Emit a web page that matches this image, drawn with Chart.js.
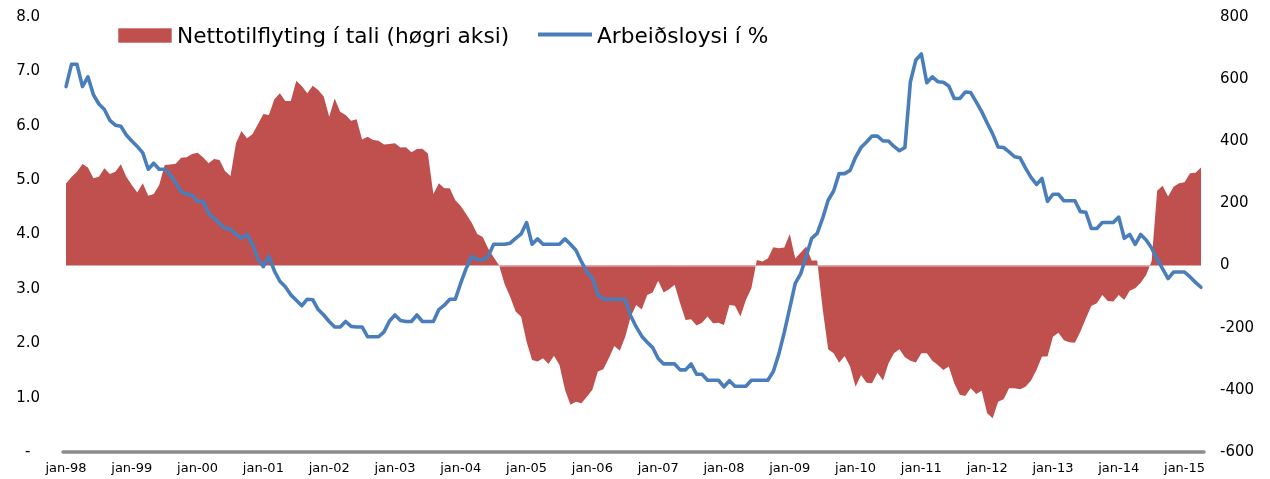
<!DOCTYPE html>
<html>
<head>
<meta charset="utf-8">
<script src="https://cdn.jsdelivr.net/npm/chart.js@4/dist/chart.umd.min.js"></script>
<style>
html,body{margin:0;padding:0;background:#fff;}
#wrap{position:relative;width:1270px;height:479px;}
</style>
</head>
<body>
<div id="wrap"><canvas id="c" width="1270" height="479"></canvas></div>
<script>
// ---- DATA ----
const startYear = 1998;
const monthNames = ['jan','feb','mar','apr','mai','jun','jul','aug','sep','okt','nov','des'];
const seriesNames = ['Nettotilflyting í tali (høgri aksi)', 'Arbeiðsloysi í %'];

// Net migration (right axis), monthly from jan-98
const netMigration = [
 264,285,302,327,316,281,286,313,295,302,326,286,
 259,235,265,225,230,259,324,325,328,347,349,359,
 363,349,329,343,340,304,288,394,433,410,423,455,
 488,485,535,555,530,530,595,578,555,579,565,544,
 479,538,495,485,466,471,406,415,404,402,390,391,
 394,380,381,365,375,376,361,230,265,249,249,210,
 192,165,138,102,92,55,27,0,-60,-100,-148,-165,
 -245,-304,-309,-298,-317,-290,-320,-400,-448,-438,-443,-422,
 -400,-341,-334,-298,-259,-274,-229,-164,-127,-141,-95,-87,
 -49,-87,-76,-62,-121,-175,-173,-193,-184,-164,-186,-184,
 -191,-127,-129,-164,-111,-73,18,13,23,59,56,58,
 102,23,42,61,16,16,-140,-269,-282,-313,-291,-325,
 -390,-352,-377,-379,-345,-370,-315,-282,-269,-295,-306,-312,
 -282,-282,-306,-320,-336,-325,-379,-416,-420,-395,-413,-403,
 -475,-491,-438,-430,-395,-395,-398,-390,-370,-336,-293,-293,
 -229,-216,-240,-247,-248,-213,-170,-130,-121,-95,-114,-116,
 -95,-111,-81,-73,-55,-30,15,241,257,222,254,265,
 268,297,299,316
];

// Unemployment in % (left axis), monthly from jan-98
const unemployment = [
 6.72,7.13,7.13,6.72,6.90,6.57,6.40,6.30,6.10,6.01,5.99,5.83,
 5.72,5.62,5.50,5.20,5.31,5.20,5.20,5.10,4.95,4.79,4.74,4.72,
 4.61,4.61,4.39,4.30,4.20,4.11,4.10,4.00,3.93,4.00,3.82,3.55,
 3.41,3.60,3.33,3.14,3.04,2.89,2.79,2.69,2.81,2.80,2.62,2.52,
 2.40,2.30,2.30,2.40,2.31,2.30,2.30,2.12,2.12,2.12,2.21,2.41,
 2.52,2.42,2.40,2.40,2.52,2.40,2.40,2.40,2.62,2.70,2.81,2.81,
 3.11,3.38,3.60,3.54,3.53,3.60,3.82,3.82,3.82,3.84,3.93,4.01,
 4.22,3.82,3.92,3.82,3.82,3.82,3.82,3.92,3.82,3.71,3.50,3.31,
 3.20,2.90,2.81,2.81,2.81,2.81,2.81,2.50,2.30,2.13,2.02,1.92,
 1.72,1.62,1.62,1.62,1.51,1.51,1.62,1.43,1.43,1.32,1.32,1.32,
 1.20,1.31,1.21,1.21,1.21,1.32,1.32,1.32,1.32,1.48,1.80,2.20,
 2.65,3.10,3.28,3.60,3.93,4.02,4.30,4.63,4.80,5.12,5.12,5.18,
 5.42,5.60,5.70,5.81,5.81,5.72,5.72,5.62,5.54,5.60,6.81,7.21,
 7.32,6.79,6.90,6.81,6.80,6.73,6.50,6.50,6.62,6.61,6.44,6.26,
 6.05,5.85,5.61,5.60,5.52,5.43,5.41,5.22,5.05,4.92,5.03,4.61,
 4.74,4.74,4.62,4.62,4.62,4.42,4.41,4.11,4.11,4.22,4.22,4.22,
 4.32,3.93,4.00,3.82,4.00,3.90,3.75,3.55,3.37,3.19,3.31,3.31,
 3.31,3.22,3.12,3.03
];

const leftTicks = [0,1,2,3,4,5,6,7,8];
const rightTicks = [-600,-400,-200,0,200,400,600,800];

// categories (month labels)
const categories = unemployment.map((_, i) => {
  const y = startYear + Math.floor(i / 12);
  return monthNames[i % 12] + '-' + String(y % 100).padStart(2, '0');
});

// ---- STYLE ----
const RED = '#C0504D';
const BLUE = '#4A7EBB';
const FONT = 'DejaVu Sans';

const chartAreaBox = {left: 66, right: 1201, top: 17, bottom: 452};

// faint seam at zero inside the area, as in the original
const seamPlugin = {
  id: 'seam',
  afterDatasetDraw(chart, args) {
    if (args.index !== 1) return;
    const ctx = chart.ctx;
    const y = Math.round(chart.scales.y1.getPixelForValue(0)) + 0.5;
    ctx.save();
    ctx.strokeStyle = 'rgba(255,255,255,0.35)';
    ctx.lineWidth = 1;
    ctx.beginPath();
    ctx.moveTo(chart.chartArea.left, y);
    ctx.lineTo(chart.chartArea.right, y);
    ctx.stroke();
    ctx.restore();
  }
};

const axisLinePlugin = {
  id: 'axisLine',
  afterDatasetsDraw(chart) {
    const ctx = chart.ctx;
    const y = chart.scales.y.getPixelForValue(0);
    ctx.save();
    ctx.strokeStyle = '#8C8C8C';
    ctx.lineWidth = 3.5;
    ctx.lineCap = 'round';
    ctx.beginPath();
    ctx.moveTo(chart.chartArea.left - 3, y);
    ctx.lineTo(chart.chartArea.right + 3, y);
    ctx.stroke();
    ctx.restore();
  }
};

const legendPlugin = {
  id: 'customLegend',
  afterDraw(chart) {
    const ctx = chart.ctx;
    ctx.save();
    ctx.font = '21.7px "' + FONT + '"';
    ctx.textBaseline = 'alphabetic';
    ctx.textAlign = 'left';
    ctx.fillStyle = RED;
    ctx.fillRect(118.3, 28.3, 53.4, 14.4);
    ctx.fillStyle = '#000';
    ctx.fillText(seriesNames[0], 177, 43.3);
    ctx.strokeStyle = BLUE;
    ctx.lineWidth = 4;
    ctx.beginPath();
    ctx.moveTo(538, 34.5);
    ctx.lineTo(592, 34.5);
    ctx.stroke();
    ctx.fillText(seriesNames[1], 597, 43.3);
    ctx.restore();
  }
};

function zeroPad(scale) {
  scale.paddingTop = 0; scale.paddingBottom = 0;
  scale.paddingLeft = 0; scale.paddingRight = 0;
}

new Chart(document.getElementById('c'), {
  data: {
    labels: categories,
    datasets: [
      {
        type: 'line',
        label: seriesNames[1],
        data: unemployment,
        yAxisID: 'y',
        borderColor: BLUE,
        borderWidth: 3.6,
        pointRadius: 0,
        tension: 0,
        fill: false,
        order: 0,
        borderJoinStyle: 'round',
        borderCapStyle: 'round'
      },
      {
        type: 'line',
        label: seriesNames[0],
        data: netMigration,
        yAxisID: 'y1',
        borderWidth: 0,
        borderColor: RED,
        backgroundColor: RED,
        pointRadius: 0,
        tension: 0,
        fill: 'origin',
        order: 1
      }
    ]
  },
  options: {
    responsive: false,
    animation: false,
    devicePixelRatio: 1,
    layout: {padding: {top: chartAreaBox.top, left: 0, right: 0, bottom: 0}},
    plugins: {legend: {display: false}, tooltip: {enabled: false}},
    scales: {
      x: {
        type: 'category',
        offset: false,
        grid: {display: false, drawTicks: false},
        border: {display: false},
        ticks: {
          autoSkip: false,
          maxRotation: 0,
          minRotation: 0,
          padding: 9,
          color: '#000',
          font: {family: FONT, size: 13},
          callback: function(v, i) { return (i % 12 === 0) ? categories[i] : null; }
        },
        afterFit(scale) { scale.height = 479 - chartAreaBox.bottom; zeroPad(scale); }
      },
      y: {
        position: 'left',
        min: leftTicks[0],
        max: leftTicks[leftTicks.length - 1],
        afterBuildTicks(scale) { scale.ticks = leftTicks.map(v => ({value: v})); },
        grid: {display: false, drawTicks: false},
        border: {display: false},
        ticks: {
          padding: 26,
          color: '#000',
          font: {family: FONT, size: 15},
          callback: v => v === 0 ? '-  ' : Number(v).toFixed(1)
        },
        afterFit(scale) { scale.width = chartAreaBox.left; zeroPad(scale); }
      },
      y1: {
        position: 'right',
        min: rightTicks[0],
        max: rightTicks[rightTicks.length - 1],
        afterBuildTicks(scale) { scale.ticks = rightTicks.map(v => ({value: v})); },
        grid: {display: false, drawTicks: false},
        border: {display: false},
        ticks: {
          padding: 19,
          color: '#000',
          font: {family: FONT, size: 15},
          callback: v => String(v)
        },
        afterFit(scale) { scale.width = 1270 - chartAreaBox.right; zeroPad(scale); }
      }
    }
  },
  plugins: [seamPlugin, axisLinePlugin, legendPlugin]
});
</script>
</body>
</html>
